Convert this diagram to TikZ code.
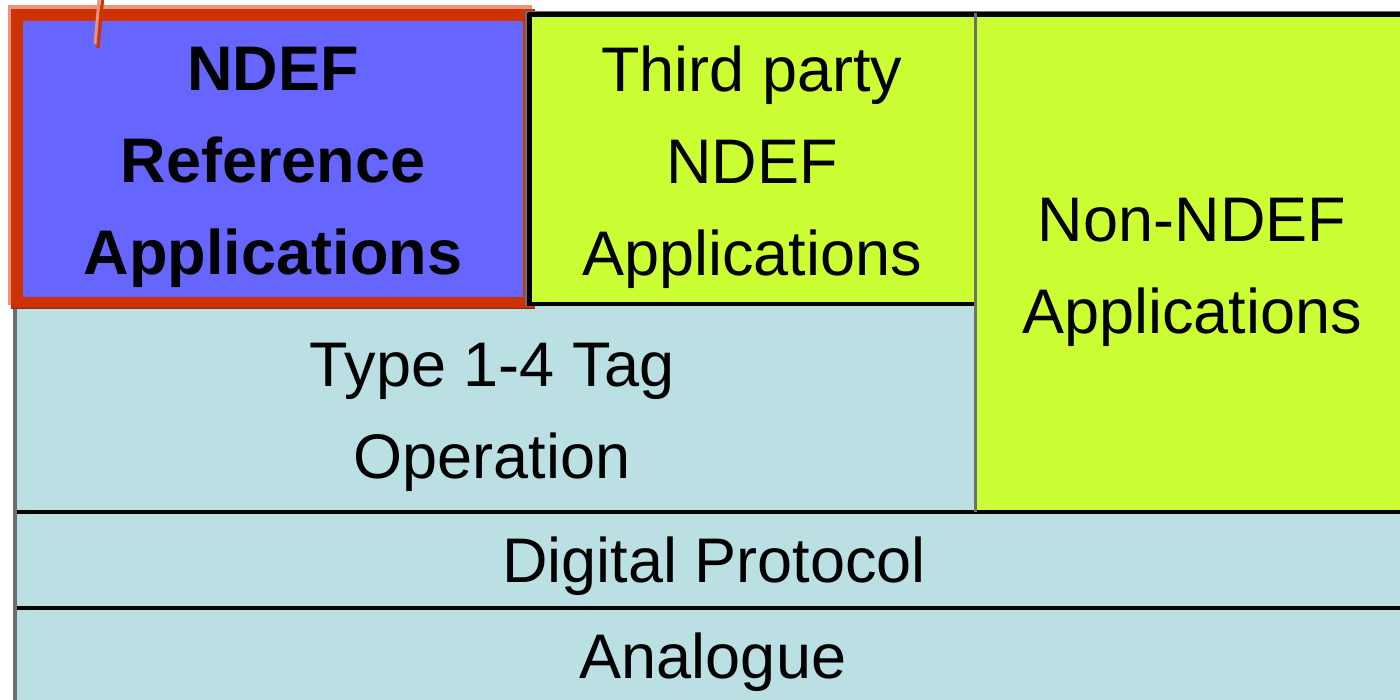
\documentclass[tikz,border=0pt]{standalone}
\usepackage{fontspec}
\setmainfont{Liberation Sans}
\definecolor{ndefblue}{HTML}{6666FF}
\definecolor{ndefred}{HTML}{CC3300}
\definecolor{lightred}{HTML}{E8957E}
\definecolor{darkred}{HTML}{8A2A10}
\definecolor{lime}{HTML}{CCFF33}
\definecolor{paleblue}{HTML}{BBE0E3}
\definecolor{edgegray}{HTML}{6F6F6F}
\tikzset{
  lbl/.style={align=center, inner sep=0pt, font=\fontsize{31.5}{46}\selectfont},
  blackline/.style={draw=black, line width=2.2pt},
  grayline/.style={draw=edgegray, line width=1.2pt},
}
\begin{document}
\begin{tikzpicture}[x=0.5pt,y=-0.5pt]
\useasboundingbox (0,0) rectangle (1400,700);
\fill[white] (0,0) rectangle (1400,700);
\begin{scope}
\clip (0,0) rectangle (1400,700);
% pale blue lower region
\fill[paleblue] (15,300) rectangle (1400,700);
% Non-NDEF box
\fill[lime] (975,13) rectangle (1400,512);
% NDEF reference box with red frame
\fill[lightred] (8,5) rectangle (532,305);
\fill[ndefred] (11,9) rectangle (535,309);
\draw[darkred, line width=0.6pt] (11,308.5) -- (535,308.5);
\fill[ndefblue] (23,21) rectangle (523,297);
% Third party box (over the red frame)
\fill[lime] (526,13) rectangle (975,305);
% borders
\draw[grayline, line width=2.2pt] (15,309) -- (15,700);
\draw[blackline] (17,512) -- (1400,512);
\draw[blackline] (17,608) -- (1400,608);
\draw[grayline] (526,11) -- (526,306);
\draw[grayline] (526,12) -- (1400,12);
\draw[blackline] (529.5,13) -- (529.5,306);
\draw[blackline] (528,14.5) -- (1400,14.5);
\draw[blackline] (528,304) -- (974,304);
\draw[grayline, line width=1.6pt] (975.5,13) -- (975.5,512);
% red mark at top
\draw[lightred, line width=1.5pt] (99,0) -- (95,44);
\draw[ndefred, line width=1.6pt] (102.5,0) -- (98,48);
\end{scope}
% labels
\node[lbl, font=\fontsize{31.5}{46}\selectfont\bfseries] (ndef) at (273,167) {NDEF\\Reference\\Applications};
\node[lbl] (third) at (752,167) {Third party\\NDEF\\Applications};
\node[lbl] (non) at (1192,272) {Non-NDEF\\Applications};
\node[lbl] (type) at (492,417) {Type 1-4 Tag\\Operation};
\node[lbl] (digital) at (714,566) {Digital Protocol};
\node[lbl] (analogue) at (713,662) {Analogue};
\end{tikzpicture}
\end{document}
